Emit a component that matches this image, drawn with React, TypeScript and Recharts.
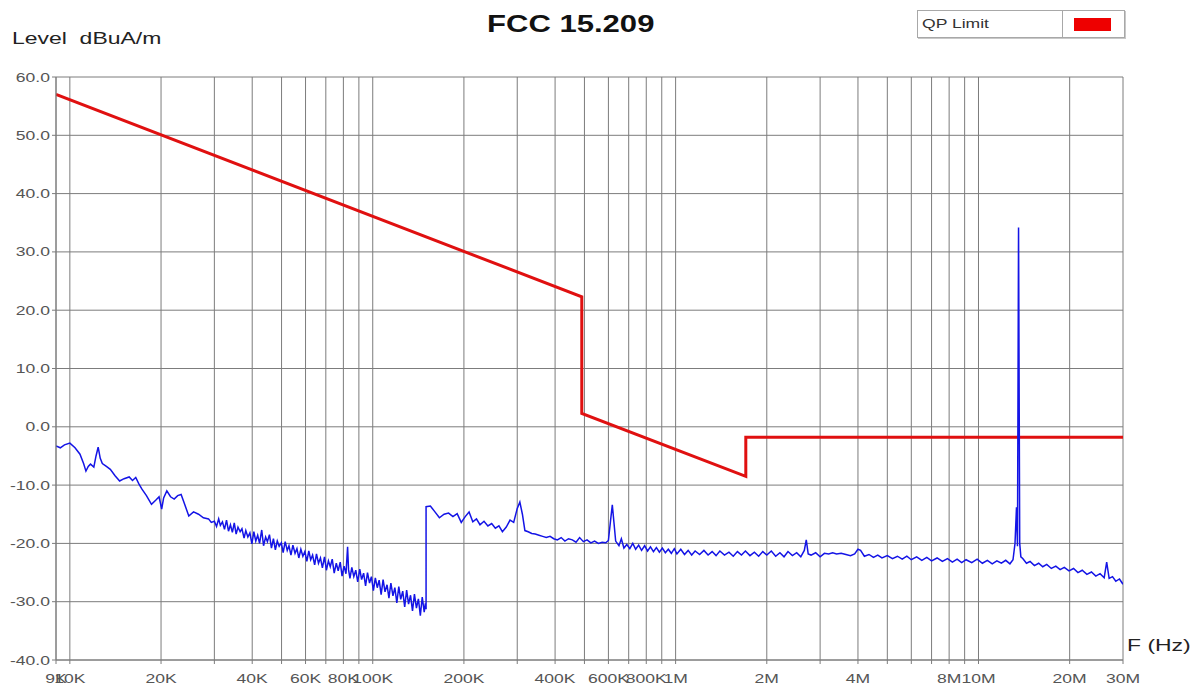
import { CartesianGrid, Line, LineChart, XAxis, YAxis } from "recharts"

// frequencies on the log axis where a vertical grid line is drawn
const gridFreqs = [
  9e3, 1e4, 2e4, 3e4, 4e4, 5e4, 6e4, 7e4, 8e4, 9e4,
  1e5, 2e5, 3e5, 4e5, 5e5, 6e5, 7e5, 8e5, 9e5,
  1e6, 2e6, 3e6, 4e6, 5e6, 6e6, 7e6, 8e6, 9e6,
  1e7, 2e7, 3e7,
]
const labelFreqs = [9e3, 1e4, 2e4, 4e4, 6e4, 8e4, 1e5, 2e5, 4e5, 6e5, 8e5, 1e6, 2e6, 4e6, 8e6, 1e7, 2e7, 3e7]
const labelTexts = ["9K", "10K", "20K", "40K", "60K", "80K", "100K", "200K", "400K", "600K", "800K", "1M", "2M", "4M", "8M", "10M", "20M", "30M"]
const levelTicks = [-40, -30, -20, -10, 0, 10, 20, 30, 40, 50, 60]

// QP limit, [kHz, dBuA/m]
const qpLimit: [number, number][] = [
  [9, 57.0], [490, 22.3], [490, 2.3], [1705, -8.5], [1705, -1.8], [30000, -1.8],
]

// measured scan 9 kHz - 150 kHz, [kHz, dBuA/m]
const scanBand1: [number, number][] = [
  [9.0, -3.3], [9.3, -3.6], [9.6, -3.1], [10.0, -2.8], [10.4, -3.6], [10.8, -4.7], [11.1, -6.3], [11.3, -7.6],
  [11.5, -6.8], [11.7, -6.4], [12.0, -6.9], [12.2, -5.0], [12.4, -3.5], [12.6, -5.4], [12.8, -6.3], [13.2, -6.8],
  [13.6, -7.3], [14.1, -8.4], [14.6, -9.3], [15.1, -8.9], [15.7, -8.6], [16.1, -9.2], [16.5, -8.7], [16.9, -9.8],
  [17.3, -10.7], [17.9, -11.8], [18.6, -13.3], [19.2, -12.6], [19.7, -12.0], [20.1, -14.1], [20.4, -12.2], [20.9, -11.0],
  [21.5, -12.0], [22.1, -12.4], [22.7, -11.8], [23.3, -11.6], [23.9, -13.2], [24.7, -15.3], [25.6, -14.6], [26.6, -15.0],
  [27.6, -15.6], [28.7, -15.8], [29.3, -16.4],
  [30.0, -16.2], [30.5, -17.1], [31.0, -15.8], [31.4, -16.9], [31.9, -16.3], [32.4, -17.6], [32.9, -16.0], [33.4, -17.9],
  [33.9, -16.8], [34.4, -18.1], [34.9, -16.5], [35.4, -18.4], [35.9, -17.2], [36.5, -18.0], [37.0, -17.5], [37.6, -19.1],
  [38.1, -17.8], [38.7, -18.9], [39.3, -18.2], [39.9, -20.1], [40.5, -18.0], [41.1, -19.6], [41.7, -18.6], [42.3, -20.0],
  [43.0, -17.7], [43.6, -20.4], [44.3, -18.9], [44.9, -19.7], [45.6, -18.5], [46.3, -20.8], [47.0, -19.2], [47.7, -21.1],
  [48.4, -19.6], [49.1, -20.5], [49.9, -19.9], [50.6, -21.6], [51.4, -19.7], [52.2, -21.2], [52.9, -20.4], [53.7, -22.0],
  [54.5, -20.3], [55.4, -21.7], [56.2, -20.9], [57.0, -22.5], [57.9, -21.0], [58.8, -22.2], [59.7, -21.4], [60.6, -23.1],
  [61.5, -21.3], [62.4, -22.8], [63.3, -22.0], [64.3, -23.7], [65.2, -21.8], [66.2, -23.4], [67.2, -22.5], [68.2, -24.2],
  [69.3, -22.3], [70.3, -24.6], [71.4, -23.0], [72.4, -24.0], [73.5, -22.7], [74.6, -25.1], [75.8, -23.4], [76.9, -24.7],
  [78.1, -23.2], [79.2, -25.6], [80.4, -23.9], [81.6, -25.2], [82.6, -20.6], [83.2, -24.5], [84.1, -26.0], [85.3, -24.1],
  [86.6, -25.7], [87.9, -24.6], [89.2, -26.6], [90.6, -24.4], [91.9, -26.2], [93.3, -25.1], [94.7, -27.3], [96.1, -25.0],
  [97.6, -26.8], [99.0, -25.7], [100.5, -28.1], [102, -25.9], [103.5, -27.6], [105, -26.3], [106.6, -28.8], [108.2, -26.2],
  [109.8, -28.3], [111.5, -27.1], [113.1, -29.4], [114.8, -26.8], [116.6, -29.0], [118.3, -27.6], [120.1, -30.2], [121.9, -27.4],
  [123.7, -29.6], [125.6, -28.2], [127.5, -30.9], [129.4, -28.0], [131.3, -30.4], [133.3, -28.9], [135.3, -31.6], [137.3, -28.7],
  [139.4, -31.1], [141.5, -29.5], [143.6, -32.4], [145.7, -29.2], [147.9, -31.8], [149.2, -30.3], [150.0, -31.3],
]

// measured scan 150 kHz - 30 MHz, [kHz, dBuA/m]
const scanBand2: [number, number][] = [
  [150, -13.7], [155, -13.6], [160, -14.5], [166, -15.6], [172, -15.0], [178, -14.8], [184, -15.4], [190, -14.9],
  [196, -16.4], [202, -15.4], [208, -14.6], [214, -16.3], [220, -15.8], [226, -16.8], [233, -16.2], [240, -17.0],
  [247, -16.6], [254, -17.4], [261, -17.0], [268, -18.0], [276, -17.2], [284, -16.0], [292, -16.4], [300, -14.0],
  [306, -12.9], [312, -15.0], [318, -17.8], [326, -18.0], [335, -18.3], [344, -18.4], [354, -18.6], [364, -18.8],
  [374, -19.0], [385, -18.8], [396, -19.2], [407, -19.4], [419, -19.0], [431, -19.6], [443, -19.2], [456, -19.4],
  [469, -19.8], [482, -19.0], [496, -19.7], [510, -19.4], [525, -19.9], [540, -19.6], [556, -20.0], [572, -19.8],
  [588, -19.9], [600, -19.5], [610, -16.0], [618, -13.4], [626, -16.5], [634, -19.6], [650, -20.4], [662, -19.2],
  [675, -20.8], [690, -20.2], [706, -20.9], [722, -20.0], [738, -21.0], [755, -20.3], [772, -21.2], [790, -20.4],
  [808, -21.3], [826, -20.6], [845, -21.4], [864, -20.7], [884, -21.5], [904, -20.8], [925, -21.6], [946, -21.0],
  [968, -21.7], [990, -20.9], [1010, -21.8], [1040, -21.0], [1070, -21.9], [1100, -21.2], [1130, -22.0], [1160, -21.3],
  [1200, -21.9], [1240, -21.2], [1280, -22.0], [1320, -21.4], [1360, -22.1], [1400, -21.3], [1450, -22.0], [1500, -21.5],
  [1550, -22.2], [1600, -21.4], [1650, -22.0], [1700, -21.3], [1760, -22.1], [1820, -21.5], [1880, -22.2], [1940, -21.4],
  [2000, -22.0], [2070, -21.3], [2140, -22.2], [2210, -21.6], [2280, -22.3], [2350, -21.4], [2430, -22.1], [2510, -21.6],
  [2590, -22.3], [2660, -21.2], [2700, -19.4], [2740, -21.8], [2800, -22.0], [2900, -21.6], [3000, -22.3], [3100, -21.7],
  [3200, -21.8], [3300, -21.6], [3400, -21.8], [3520, -21.7], [3650, -21.9], [3780, -22.1], [3900, -21.8], [4000, -21.0],
  [4080, -21.2], [4200, -22.2], [4350, -21.9], [4500, -22.4], [4650, -22.0], [4800, -22.5], [5000, -22.1], [5200, -22.6],
  [5400, -22.2], [5600, -22.7], [5800, -22.2], [6000, -22.8], [6250, -22.3], [6500, -22.9], [6750, -22.4], [7000, -23.0],
  [7300, -22.5], [7600, -23.1], [7900, -22.6], [8200, -23.2], [8500, -22.7], [8800, -23.3], [9100, -22.8], [9500, -23.3],
  [9900, -22.7], [10300, -23.4], [10700, -22.9], [11100, -23.5], [11500, -23.0], [11900, -23.4], [12300, -22.9], [12700, -23.5],
  [13000, -22.8], [13200, -20.0], [13350, -13.8], [13450, -20.5], [13560, 34.2], [13680, -20.0], [13800, -22.3], [14000, -22.6],
  [14400, -23.4], [14800, -23.1], [15300, -23.8], [15800, -23.4], [16300, -24.0], [16800, -23.6], [17400, -24.3], [18000, -23.9],
  [18600, -24.5], [19200, -24.1], [19900, -24.7], [20600, -24.3], [21300, -25.0], [22000, -24.6], [22800, -25.3], [23600, -24.9],
  [24400, -25.6], [25200, -25.2], [26000, -25.9], [26500, -23.2], [27000, -26.0], [27700, -25.7], [28400, -26.5], [29200, -26.1],
  [30000, -27.0],
]

const toPoints = (rows: [number, number][]) => rows.map(([k, v]) => ({ f: k * 1000, v }))
const limitData = toPoints(qpLimit)
const scanData = toPoints([...scanBand1, ...scanBand2])

const FONT = "'Liberation Sans', Arial, sans-serif"
const STRETCH = 1.35
const GRID = "#7c7c7c"

function XTick({ x, y, payload }: { x?: number; y?: number; payload?: { value: number } }) {
  if (x === undefined || y === undefined || !payload) return null
  const i = labelFreqs.indexOf(payload.value)
  if (i < 0) return null
  return (
    <text
      transform={`translate(${x},${y + 17}) scale(${STRETCH},1)`}
      textAnchor="middle"
      fontSize={13}
      fontFamily={FONT}
      fill="#555"
    >
      {labelTexts[i]}
    </text>
  )
}

function YTick({ x, y, payload }: { x?: number; y?: number; payload?: { value: number } }) {
  if (x === undefined || y === undefined || !payload) return null
  return (
    <text
      transform={`translate(${x},${y + 4.5}) scale(${STRETCH},1)`}
      textAnchor="end"
      fontSize={13}
      fontFamily={FONT}
      fill="#555"
    >
      {payload.value.toFixed(1)}
    </text>
  )
}

const stretched = (left: number, top: number, size: number, extra: React.CSSProperties = {}) =>
  ({
    position: "absolute",
    left,
    top,
    fontSize: size,
    fontFamily: FONT,
    lineHeight: 1,
    whiteSpace: "nowrap",
    transform: `scaleX(${STRETCH})`,
    transformOrigin: "left top",
    ...extra,
  }) as React.CSSProperties

export default function App() {
  return (
    <div style={{ position: "relative", width: 1203, height: 695, background: "#fff" }}>
      <style>{"body{margin:0}"}</style>
      <LineChart width={1203} height={695} margin={{ top: 77, right: 80, bottom: 0, left: 0 }}>
        <CartesianGrid stroke={GRID} strokeWidth={1} />
        <XAxis
          dataKey="f"
          type="number"
          scale="log"
          domain={[9000, 30000000]}
          allowDataOverflow
          ticks={gridFreqs}
          interval={0}
          tick={<XTick />}
          tickSize={4}
          tickLine={{ stroke: GRID }}
          axisLine={{ stroke: GRID }}
          height={35}
        />
        <YAxis
          type="number"
          domain={[-40, 60]}
          ticks={levelTicks}
          interval={0}
          tick={<YTick />}
          tickSize={4}
          tickLine={{ stroke: GRID }}
          axisLine={{ stroke: GRID }}
          width={56}
        />
        <Line
          data={limitData}
          dataKey="v"
          type="linear"
          stroke="#e01010"
          strokeWidth={3}
          dot={false}
          isAnimationActive={false}
        />
        <Line
          data={scanData}
          dataKey="v"
          type="linear"
          stroke="#1414e6"
          strokeWidth={1.5}
          dot={false}
          isAnimationActive={false}
        />
      </LineChart>

      <div style={stretched(487, 13, 23, { fontWeight: 700, color: "#111" })}>FCC 15.209</div>
      <div style={stretched(12, 30, 17, { color: "#222" })}>Level&nbsp;&nbsp;dBuA/m</div>
      <div style={stretched(1127, 637, 17, { color: "#222" })}>F (Hz)</div>

      <div
        style={{
          position: "absolute",
          left: 917,
          top: 10,
          width: 206,
          height: 26,
          border: "1px solid #a8a8a8",
          boxShadow: "1px 1px 0 #c8c8c8",
          background: "#fff",
        }}
      >
        <div style={stretched(4, 6, 13, { color: "#333" })}>QP Limit</div>
        <div style={{ position: "absolute", left: 144, top: 0, width: 1, height: 26, background: "#a8a8a8" }} />
        <div style={{ position: "absolute", left: 156, top: 7, width: 37, height: 13, background: "#ee0000" }} />
      </div>
    </div>
  )
}
